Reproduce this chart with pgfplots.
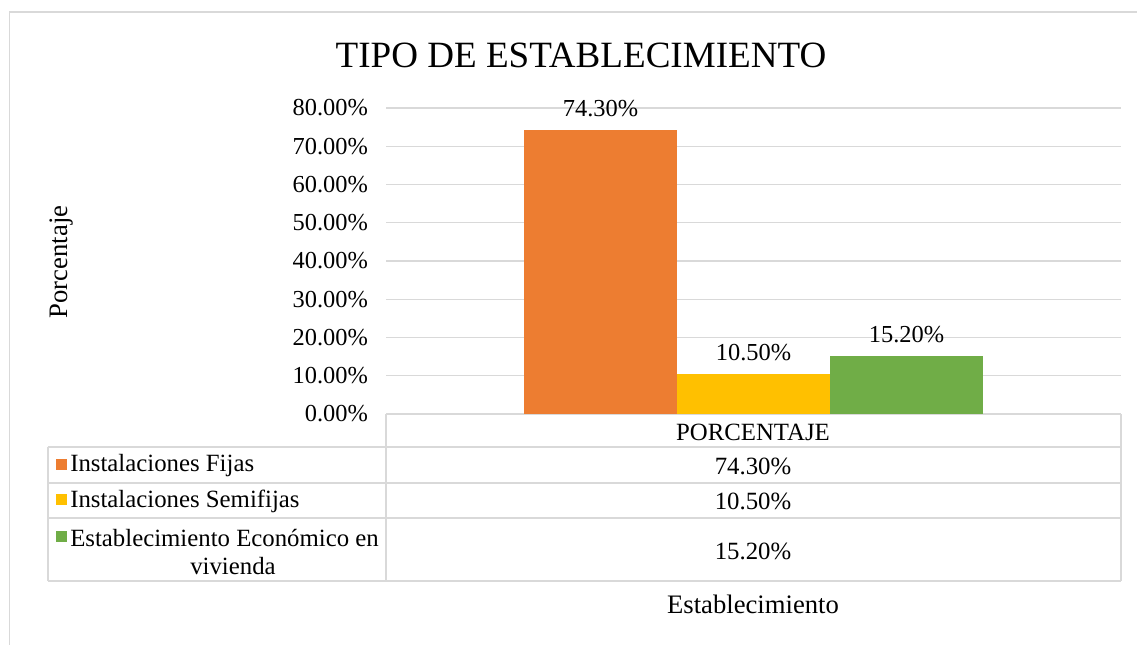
\documentclass[border=0pt]{standalone}
\usepackage{pgfplots}
\pgfplotsset{compat=1.18}
\usepackage{fontspec}
\setmainfont{Liberation Serif}
\definecolor{cfijas}{HTML}{ED7D31}
\definecolor{csemi}{HTML}{FFC000}
\definecolor{cviv}{HTML}{70AD47}
\definecolor{gridc}{HTML}{D9D9D9}
\newcommand{\txt}{\fontsize{18.3}{21}\selectfont}
\newcommand{\tbl}{\fontsize{18.6}{21}\selectfont}
\newcommand{\ttl}{\fontsize{20}{24}\selectfont}

\begin{document}
\begin{tikzpicture}
% pixel frame (1px = 0.75pt), origin at the top left, axis box SW corner at (386,414)
\begin{scope}[shift={(-289.5pt,310.5pt)},x=0.75pt,y=-0.75pt]
\useasboundingbox (0,0) rectangle (1137,644);
\draw[gridc, line width=1.2pt] (9.5,650) -- (9.5,12) -- (1140,12);
% title and axis labels
\node[font=\fontsize{27.8}{32}\selectfont] at (581,55) {TIPO DE ESTABLECIMIENTO};
\node[font=\ttl, rotate=90] at (62,262) {Porcentaje};
\node[font=\ttl] at (753,604) {Establecimiento};
% data table
\begin{scope}[gridc, line width=1.1pt]
\draw (386,414) -- (1121,414);
\draw (48,447) -- (1121,447);
\draw (48,483) -- (1121,483);
\draw (48,518) -- (1121,518);
\draw (48,581) -- (1121,581);
\draw (386,414) -- (386,581);
\draw (1121,414) -- (1121,581);
\draw (48,447) -- (48,581);
\end{scope}
\node[font=\tbl] at (753,432) {PORCENTAJE};
\node[font=\tbl] at (753,466) {74.30\%};
\node[font=\tbl] at (753,501) {10.50\%};
\node[font=\tbl] at (753,551) {15.20\%};
\fill[cfijas] (56,459) rectangle (67,470);
\fill[csemi] (56,494) rectangle (67,505);
\fill[cviv] (56,531) rectangle (67,542);
\node[font=\tbl, anchor=west, inner sep=0pt] at (70,466) {Instalaciones Fijas};
\node[font=\tbl, anchor=west, inner sep=0pt] at (70,501) {Instalaciones Semifijas};
\node[font=\tbl, anchor=west, inner sep=0pt] at (70,538) {Establecimiento Económico en};
\node[font=\tbl] at (233,566) {vivienda};
\end{scope}

\begin{axis}[
  at={(0,0)}, anchor=south west,
  scale only axis, width=551.25pt, height=229.5pt,
  xmin=-0.5, xmax=0.5, ymin=0, ymax=80,
  enlargelimits=false,
  ybar=0pt, bar width=114.75pt,
  xtick=\empty,
  ytick={0,10,...,80},
  major tick length=0pt,
  axis line style={draw=none},
  ymajorgrids,
  grid style={gridc, line width=1.1pt},
  /pgf/number format/assume math mode=true,
  yticklabel={\pgfmathprintnumber[fixed,fixed zerofill,precision=2]{\tick}\%},
  yticklabel style={font=\txt, xshift=-10pt},
  nodes near coords={\pgfmathprintnumber[fixed,fixed zerofill,precision=2]{\pgfplotspointmeta}\%},
  nodes near coords style={font=\txt, black, yshift=6.5pt},
]
\addplot[draw=none, fill=cfijas] coordinates {(0,74.3)};
\addplot[draw=none, fill=csemi] coordinates {(0,10.5)};
\addplot[draw=none, fill=cviv] coordinates {(0,15.2)};
\end{axis}
\end{tikzpicture}
\end{document}
